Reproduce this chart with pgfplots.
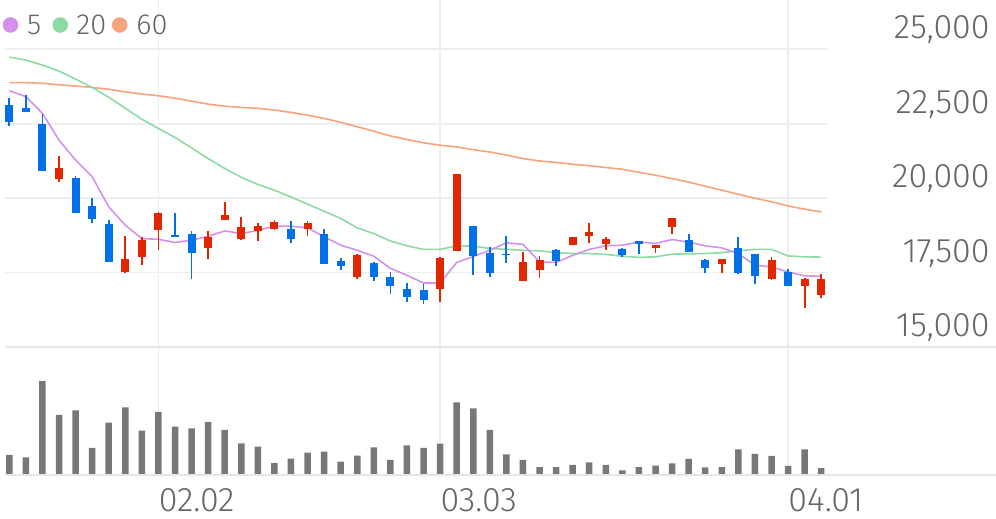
\documentclass[border=0pt]{standalone}
\usepackage{pgfplots}
\pgfplotsset{compat=1.18}
\usepackage{pgfplotstable}
\usepackage{fontspec}
\setmainfont{Fira Sans Light}

\definecolor{upred}{RGB}{226,38,0}
\definecolor{dnblue}{RGB}{0,113,233}
\definecolor{mafive}{RGB}{211,145,235}
\definecolor{matwenty}{RGB}{141,219,162}
\definecolor{masixty}{RGB}{247,163,124}
\definecolor{volgray}{RGB}{120,120,120}
\definecolor{gridc}{RGB}{238,238,238}
\definecolor{sepc}{RGB}{230,230,230}
\definecolor{txt}{RGB}{102,102,102}

% rising candles: index open high low close
\pgfplotstableread{
i  o     h     l     c
3  20640 21420 20530 21020
7  17520 18730 17470 17940
8  18030 18700 17750 18590
9  18920 19540 18250 19490
12 18320 18900 17970 18680
13 19260 19880 19260 19450
14 18640 19370 18590 19030
15 18890 19180 18550 19070
16 18980 19260 18920 19190
18 18980 19230 18720 19180
21 17350 18140 17300 18080
26 16950 18010 16500 18000
27 18230 20800 18230 20800
31 17220 18190 17220 17860
32 17600 18060 17330 17920
34 18420 18700 18420 18680
35 18720 19150 18480 18870
36 18450 18680 18250 18640
39 18310 18420 18170 18420
40 19030 19340 18810 19340
43 17800 17940 17470 17940
46 17270 18030 17240 17920
48 17040 17320 16320 17300
49 16740 17440 16660 17300
}\up

% falling candles
\pgfplotstableread{
i  o     h     l     c
0  23130 23350 22410 22550
1  23040 23460 22880 22880
2  22490 22830 20910 20910
4  20680 20750 19500 19500
5  19740 20010 19160 19290
6  19140 19270 17860 17860
10 18750 19490 18680 18680
11 18810 18890 17300 18170
17 18950 19240 18500 18640
19 18810 18980 17780 17780
20 17890 17990 17580 17710
22 17820 17860 17220 17350
23 17350 17520 16770 17040
24 16960 17150 16510 16680
25 16910 17110 16440 16570
28 19070 19070 17430 18060
29 18170 18360 17350 17470
30 18120 18720 17820 18080
33 18250 18280 17710 17880
37 18290 18330 18030 18080
38 18550 18550 18120 18450
41 18610 18780 18190 18190
42 17920 17940 17470 17670
44 18310 18680 17440 17470
45 18120 18140 17110 17380
47 17520 17610 17040 17040
}\dn

% moving averages and volume (relative)
\pgfplotstableread{
i  m5    m20   m60   v
0  23610 24740 23880 20
1  23410 24640 23880 17.7
2  22850 24470 23860 94
3  21950 24270 23810 60
4  21280 24000 23770 64.7
5  20720 23720 23720 27
6  19710 23390 23660 52.3
7  19090 23020 23570 67.7
8  18640 22650 23500 44.3
9  18620 22340 23440 63
10 18510 22040 23360 48.3
11 18590 21690 23260 46.7
12 18720 21330 23160 53
13 18900 21000 23090 45
14 18810 20700 23050 31.7
15 18920 20460 23020 28.3
16 19060 20270 22960 12
17 19060 20040 22880 16.3
18 19000 19800 22790 22.3
19 18700 19560 22680 23.3
20 18420 19320 22550 13.3
21 18250 19000 22400 19.3
22 18050 18810 22250 27.7
23 17640 18560 22090 15
24 17410 18400 21970 29.7
25 17150 18280 21860 27
26 17150 18280 21780 31.3
27 17840 18400 21720 72.7
28 18040 18390 21630 66.7
29 18250 18310 21550 45
30 18500 18280 21450 20.7
31 18450 18250 21330 15
32 17860 18230 21250 8
33 17840 18170 21200 8
34 18080 18140 21140 10
35 18280 18140 21090 12.7
36 18400 18110 21030 10
37 18420 18050 20970 4.7
38 18530 18010 20870 8
39 18480 18030 20770 9.3
40 18610 18120 20660 11.7
41 18520 18130 20540 16
42 18400 18140 20400 7.7
43 18330 18170 20270 8
44 18140 18230 20130 25.7
45 17750 18280 20000 21
46 17690 18280 19880 19
47 17520 18060 19740 9
48 17390 18030 19630 25.7
49 17380 18020 19540 7
}\ma

\begin{document}
\begin{tikzpicture}[x=1pt,y=1pt]
\useasboundingbox (-2.5,-86) rectangle (495.5,173.5);

\begin{axis}[
    name=price, at={(0,0)}, anchor=south west,
    scale only axis, width=411.5pt, height=173.5pt,
    xmin=-0.26, xmax=49.41, ymin=15000, ymax=26658,
    axis line style={draw=none}, tick style={draw=none},
    xtick={9,26,47}, xticklabels={}, xmajorgrids,
    ytick={15000,17500,20000,22500,25000},
    yticklabels={{15,000},{17,500},{20,000},{22,500},{25,000}},
    ymajorgrids, yticklabel pos=right,
    yticklabel style={anchor=base east, inner sep=0pt, xshift=81pt, yshift=5.2pt,
      font=\fontsize{17}{20}\selectfont, text=txt},
    grid style={gridc, line width=0.9pt},
  ]
  \addplot[masixty, line width=0.8pt] table[x=i, y=m60] {\ma};
  \addplot[matwenty, line width=0.8pt] table[x=i, y=m20] {\ma};
  \addplot[mafive, line width=0.8pt] table[x=i, y=m5] {\ma};
  % wicks
  \addplot[upred, line width=0.9pt, quiver={u=0, v=\thisrow{h}-\thisrow{l}}] table[x=i, y=l] {\up};
  \addplot[dnblue, line width=0.9pt, quiver={u=0, v=\thisrow{h}-\thisrow{l}}] table[x=i, y=l] {\dn};
  % bodies
  \addplot[upred, line width=4pt, quiver={u=0, v=\thisrow{c}-\thisrow{o}}] table[x=i, y=o] {\up};
  \addplot[dnblue, line width=4pt, quiver={u=0, v=\thisrow{c}-\thisrow{o}}] table[x=i, y=o] {\dn};
\end{axis}

\begin{axis}[
    name=vol, at={(0,0)}, anchor=north west,
    scale only axis, width=411.5pt, height=64pt,
    xmin=-0.26, xmax=49.41, ymin=0, ymax=128,
    axis line style={draw=none}, tick style={draw=none},
    ytick=\empty,
    xtick={9,26,47}, xticklabels={02.02,03.03,04.01}, xmajorgrids,
    xticklabel style={anchor=north west, inner sep=0pt, yshift=-6.6pt,
      font=\fontsize{17}{20}\selectfont, text=txt},
    grid style={gridc, line width=0.9pt},
  ]
  \addplot[ybar, bar width=3.25pt, bar shift=0pt, fill=volgray, draw=none] table[x=i, y=v] {\ma};
\end{axis}

\draw[sepc, line width=1pt] (vol.north west) -- ++(495.5,0);
\draw[sepc, line width=1pt] (vol.south west) -- ++(495.5,0);

% legend
\fill[mafive] (2.75,161) circle (3.9);
\fill[matwenty] (27.65,161) circle (3.9);
\fill[masixty] (57.35,161) circle (3.9);
\begin{scope}[every node/.style={anchor=base west, inner sep=0pt, text=txt, font=\fontsize{14.5}{17}\selectfont}]
  \node at (10.85,156) {5};
  \node at (35.5,156) {20};
  \node at (65.5,156) {60};
\end{scope}
\end{tikzpicture}
\end{document}
